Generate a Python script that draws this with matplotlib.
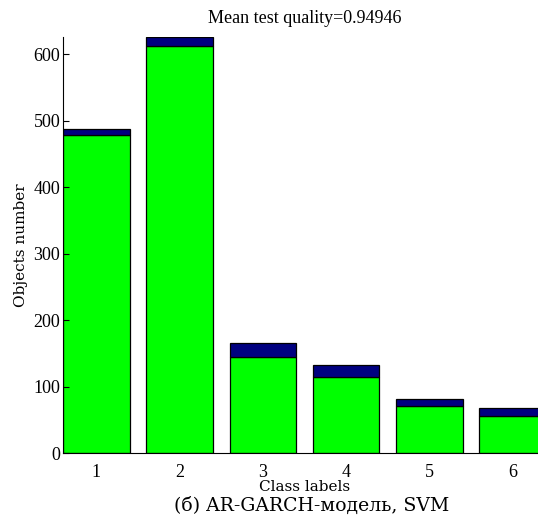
import numpy as np
import matplotlib
matplotlib.use("Agg")
import matplotlib.pyplot as plt

class_labels = [1, 2, 3, 4, 5, 6]
correct = [479, 613, 145, 114, 71, 56]
total = [487, 626, 165, 133, 81, 67]
errors = [t - c for t, c in zip(total, correct)]
mean_quality = 0.94946

fig = plt.figure(figsize=(5.38, 5.19), dpi=100)
ax = fig.add_axes([63 / 538, 1 - 453 / 519, 483 / 538, 416 / 519])

ax.bar(class_labels, correct, width=0.8, color="#00ff00", edgecolor="black", linewidth=0.9)
ax.bar(class_labels, errors, width=0.8, bottom=correct, color="#000080",
       edgecolor="black", linewidth=0.9)

ax.set_xlim(0.6, 6.4)
ax.set_ylim(0, max(total))
ax.set_yticks(np.arange(0, 700, 100))
ax.set_xticks(class_labels)
ax.spines["top"].set_visible(False)
ax.spines["right"].set_visible(False)
ax.tick_params(direction="in", labelsize=13)
ax.tick_params(axis="y", length=4, width=0.8, pad=2)
ax.tick_params(axis="x", length=0, pad=8)
for lab in ax.get_xticklabels() + ax.get_yticklabels():
    lab.set_family("Liberation Serif")

ax.set_title(f"Mean test quality={mean_quality}", family="Liberation Serif",
             fontsize=13, pad=10)
ax.set_xlabel("Class labels", family="DejaVu Serif", fontsize=11, labelpad=-1)
ax.set_ylabel("Objects number", family="DejaVu Serif", fontsize=11, labelpad=4)

fig.text(0.58, 0.026, "(б) AR-GARCH-модель, SVM", family="DejaVu Serif",
         fontsize=13.6, ha="center", va="center")

fig.savefig("out.png", dpi=100)
